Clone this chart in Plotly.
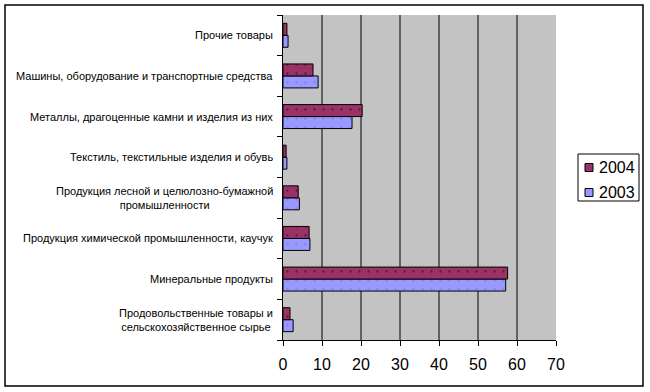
import plotly.graph_objects as go

categories = [
    "Продовольственные товары и<br>сельскохозяйственное сырье",
    "Минеральные продукты",
    "Продукция химической промышленности, каучук",
    "Продукция лесной и целюлозно-бумажной<br>промышленности",
    "Текстиль, текстильные изделия и обувь",
    "Металлы, драгоценные камни и изделия из них",
    "Машины, оборудование и транспортные средства",
    "Прочие товары",
]
values_2003 = [2.6, 57.1, 6.9, 4.2, 1.0, 17.7, 9.0, 1.3]
values_2004 = [1.8, 57.6, 6.7, 3.9, 0.8, 20.3, 7.7, 1.0]
series_names = ["2003", "2004"]
x_ticks = [0, 10, 20, 30, 40, 50, 60, 70]

FONT = "Liberation Sans, Arial, sans-serif"
W, H = 650, 392
L, R, T, B = 283, 94, 15, 52
pw, ph = W - L - R, H - T - B
COLORS = {"2003": "#9999ff", "2004": "#993366"}
DOTS = {"2003": "#6666dd", "2004": "#1a0010"}

def px_x(p):
    return (p - L) / pw

def px_y(p):
    return (H - B - p) / ph

fig = go.Figure()
for name, vals in zip(series_names, [values_2003, values_2004]):
    fig.add_trace(go.Bar(
        y=categories, x=vals, orientation="h", name=name,
        marker=dict(color=COLORS[name], line=dict(color="black", width=1),
                    pattern=dict(shape=".", fgcolor=DOTS[name],
                                 bgcolor=COLORS[name], size=9, solidity=0.05)),
    ))

annotations = []
for c in categories:
    annotations.append(dict(
        x=0, xref="paper", y=c, yref="y", text=c, showarrow=False,
        xanchor="right", yanchor="middle", align="center", xshift=-8,
        font=dict(family=FONT, size=11, color="black"),
    ))

shapes = []
# vertical gridlines at inner tick values (the 70 edge has no black line)
for v in x_ticks[1:-1]:
    shapes.append(dict(
        type="line", xref="x", yref="paper", x0=v, x1=v, y0=0, y1=1,
        line=dict(color="black", width=1), layer="below",
    ))
# outer chart border
shapes.append(dict(
    type="rect", xref="paper", yref="paper",
    x0=px_x(5), x1=px_x(643), y0=px_y(386), y1=px_y(5),
    line=dict(color="black", width=1.5), fillcolor="rgba(0,0,0,0)",
    layer="above",
))
# legend box (Excel-style, compact): 2004 listed first
shapes.append(dict(
    type="rect", xref="paper", yref="paper",
    x0=px_x(578), x1=px_x(639), y0=px_y(201), y1=px_y(154),
    line=dict(color="black", width=1), fillcolor="white", layer="above",
))
for i, name in enumerate(reversed(series_names)):
    cy = 167.5 + 25 * i
    shapes.append(dict(
        type="rect", xref="paper", yref="paper",
        x0=px_x(585), x1=px_x(593), y0=px_y(cy + 4), y1=px_y(cy - 4),
        line=dict(color="black", width=1), fillcolor=COLORS[name],
        layer="above",
    ))
    annotations.append(dict(
        x=px_x(597), xref="paper", y=px_y(cy), yref="paper", text=name,
        showarrow=False, xanchor="left", yanchor="middle",
        font=dict(family=FONT, size=16, color="black"),
    ))

fig.update_layout(
    width=W, height=H,
    margin=dict(l=L, r=R, t=T, b=B, autoexpand=False),
    paper_bgcolor="white",
    plot_bgcolor="#c3c3c3",
    barmode="group",
    bargap=0.41,
    bargroupgap=0,
    font=dict(family=FONT, color="black"),
    showlegend=False,
    xaxis=dict(
        range=[0, 70], tickvals=x_ticks, ticktext=[str(v) for v in x_ticks],
        showgrid=False,
        showline=True, linecolor="black", linewidth=1,
        ticks="outside", ticklen=5, tickcolor="black",
        ticklabelstandoff=5,
        tickfont=dict(family=FONT, size=16, color="black"),
        zeroline=False, fixedrange=True, automargin=False,
    ),
    yaxis=dict(
        showticklabels=False, showgrid=False,
        showline=True, linecolor="black", linewidth=1,
        ticks="outside", ticklen=5, tickcolor="black", tickson="boundaries",
        zeroline=False, fixedrange=True, automargin=False,
    ),
    annotations=annotations,
    shapes=shapes,
)

fig.write_html(
    "out.html",
    config={"displayModeBar": False},
    post_script="document.body.style.margin='0';document.body.style.overflow='hidden';",
)
